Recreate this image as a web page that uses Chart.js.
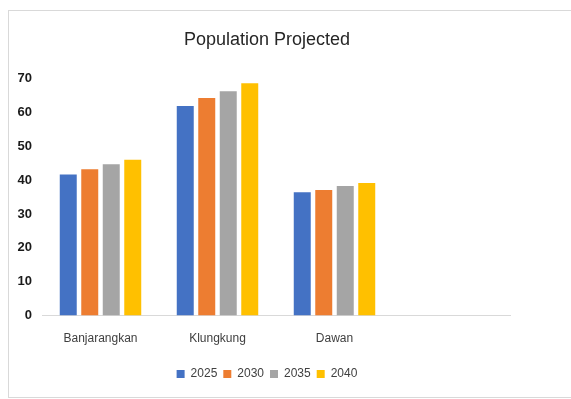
<!DOCTYPE html>
<html>
<head>
<meta charset="utf-8">
<script src="https://cdn.jsdelivr.net/npm/chart.js@4/dist/chart.umd.min.js"></script>
<style>
  html, body { margin: 0; padding: 0; background: #fff; }
  body { width: 571px; height: 399px; position: relative; overflow: hidden; }
  .frame { position: absolute; left: 8px; top: 10px; width: 580px; height: 386px; border: 1px solid #d9d9d9; }
  .wrap { position: absolute; left: 9px; top: 11px; width: 518px; height: 385px; }
</style>
</head>
<body>
<div class="frame"></div>
<div class="wrap"><canvas id="popChart"></canvas></div>
<script>
// regions (4th slot is empty in the source chart)
const regions = ["Banjarangkan", "Klungkung", "Dawan", ""];
const years = ["2025", "2030", "2035", "2040"];

const pop2025 = [41.7, 61.9, 36.4, null];
const pop2030 = [43.2, 64.3, 37.1, null];
const pop2035 = [44.7, 66.3, 38.3, null];
const pop2040 = [46.0, 68.6, 39.2, null];

const yTicks = [0, 10, 20, 30, 40, 50, 60, 70];

const colors = ["#4472C4", "#ED7D31", "#A5A5A5", "#FFC000"];
const series = [pop2025, pop2030, pop2035, pop2040];

const chart = new Chart(document.getElementById("popChart"), {
  type: "bar",
  data: {
    labels: regions,
    datasets: years.map((y, i) => ({
      label: y,
      data: series[i],
      backgroundColor: colors[i],
      borderWidth: 0,
      barPercentage: 0.79,
      categoryPercentage: 0.735
    }))
  },
  options: {
    responsive: true,
    maintainAspectRatio: false,
    animation: false,
    layout: { padding: { left: 15, right: 17, top: 0, bottom: 6 } },
    plugins: {
      title: {
        display: true,
        text: "Population Projected",
        color: "#262626",
        font: { family: "Liberation Sans", size: 18, weight: "normal" },
        padding: { top: 18, bottom: 28 }
      },
      legend: {
        position: "bottom",
        labels: {
          boxWidth: 8,
          boxHeight: 8,
          padding: 6,
          color: "#404040",
          font: { family: "Liberation Sans", size: 12 }
        }
      },
      tooltip: { enabled: false }
    },
    scales: {
      x: {
        grid: { display: false, drawTicks: false },
        border: { display: true, color: "#d9d9d9", width: 1 },
        ticks: {
          color: "#404040",
          padding: 16,
          font: { family: "Liberation Sans", size: 12 }
        }
      },
      y: {
        min: 0,
        max: 70,
        afterBuildTicks: (axis) => { axis.ticks = yTicks.map(v => ({ value: v })); },
        // narrow box so the title/legend centre sits like the original
        afterFit: (axis) => { axis.width = 18; },
        grid: { display: false, drawTicks: false },
        border: { display: false },
        ticks: {
          mirror: true,
          crossAlign: "far",
          color: "#1a1a1a",
          padding: -24.5,
          font: { family: "Liberation Sans", size: 13, weight: "bold" }
        }
      }
    }
  }
});
</script>
</body>
</html>
